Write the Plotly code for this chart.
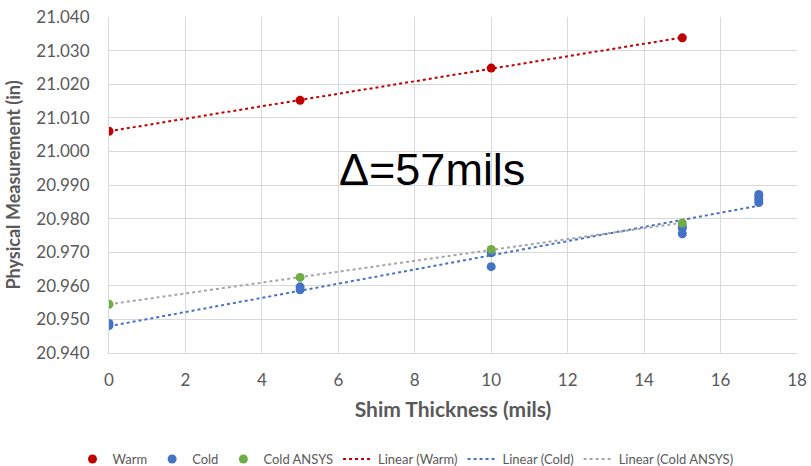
import numpy as np
import plotly.graph_objects as go

# Data
warm_x = [0, 5, 10, 15]
warm_y = [21.0060, 21.0152, 21.0248, 21.0338]

cold_x = [0, 0, 5, 5, 10, 10, 15, 15, 15, 17, 17, 17, 17]
cold_y = [20.9488, 20.9482, 20.9597, 20.9588, 20.9698, 20.9657,
          20.9778, 20.9771, 20.9755, 20.9872, 20.9864, 20.9856, 20.9848]

ansys_x = [0, 5, 10, 15]
ansys_y = [20.9545, 20.9625, 20.9708, 20.9787]

x_ticks = list(range(0, 19, 2))
y_ticks = [20.94, 20.95, 20.96, 20.97, 20.98, 20.99, 21.00, 21.01, 21.02, 21.03, 21.04]

RED = "#C00000"
BLUE = "#4472C4"
GREEN = "#70AD47"
GRAY = "#A5A5A5"
TXT = "#595959"
FONT = "Lato"


def trend(xs, ys):
    m, b = np.polyfit(xs, ys, 1)
    xx = [min(xs), max(xs)]
    return xx, [m * v + b for v in xx]


fig = go.Figure()
for xs, ys, nm, col in [(warm_x, warm_y, "Linear (Warm)", RED),
                        (cold_x, cold_y, "Linear (Cold)", BLUE),
                        (ansys_x, ansys_y, "Linear (Cold ANSYS)", GRAY)]:
    tx, ty = trend(xs, ys)
    fig.add_trace(go.Scatter(x=tx, y=ty, mode="lines", name=nm,
                             line=dict(color=col, width=2, dash="dot")))
fig.add_trace(go.Scatter(x=warm_x, y=warm_y, mode="markers", name="Warm",
                         marker=dict(color=RED, size=9)))
fig.add_trace(go.Scatter(x=cold_x, y=cold_y, mode="markers", name="Cold",
                         marker=dict(color=BLUE, size=9)))
fig.add_trace(go.Scatter(x=ansys_x, y=ansys_y, mode="markers", name="Cold ANSYS",
                         marker=dict(color=GREEN, size=9)))

order = ["Warm", "Cold", "Cold ANSYS", "Linear (Warm)", "Linear (Cold)", "Linear (Cold ANSYS)"]
for t in fig.data:
    t.legendrank = order.index(t.name) + 1

fig.add_annotation(x=0.47, y=0.545, xref="paper", yref="paper", text="Δ=57mils",
                   showarrow=False, font=dict(family="Liberation Sans, Arial", size=45, color="#000000"))

fig.update_layout(
    width=811, height=466,
    margin=dict(l=109, r=14, t=17, b=113),
    paper_bgcolor="white", plot_bgcolor="white",
    font=dict(family=FONT, color=TXT, size=14),
    showlegend=True,
    legend=dict(orientation="h", xref="container", yref="container", x=0.5, y=0.015,
                xanchor="center", yanchor="middle", font=dict(size=13, color=TXT),
                itemwidth=30, traceorder="normal"),
)

fig.update_xaxes(range=[0, 18], tickvals=x_ticks, showgrid=True, gridcolor="#D9D9D9",
                 gridwidth=1, zeroline=False, showline=True, linecolor="#D9D9D9",
                 ticks="", tickfont=dict(size=17, color=TXT), ticklabelstandoff=12,
                 automargin=False,
                 title=dict(text="<b>Shim Thickness (mils)</b>", font=dict(size=21, color=TXT), standoff=12))
fig.update_yaxes(range=[20.94, 21.04], tickvals=y_ticks, tickformat=".3f",
                 showgrid=True, gridcolor="#D9D9D9", gridwidth=1, zeroline=False,
                 showline=True, linecolor="#D9D9D9", ticks="", automargin=False,
                 tickfont=dict(size=17, color=TXT), ticklabelstandoff=15,
                 title=dict(text="<b>Physical Measurement (in)</b>", font=dict(size=18, color=TXT), standoff=10))

fig.write_html("out.html")
